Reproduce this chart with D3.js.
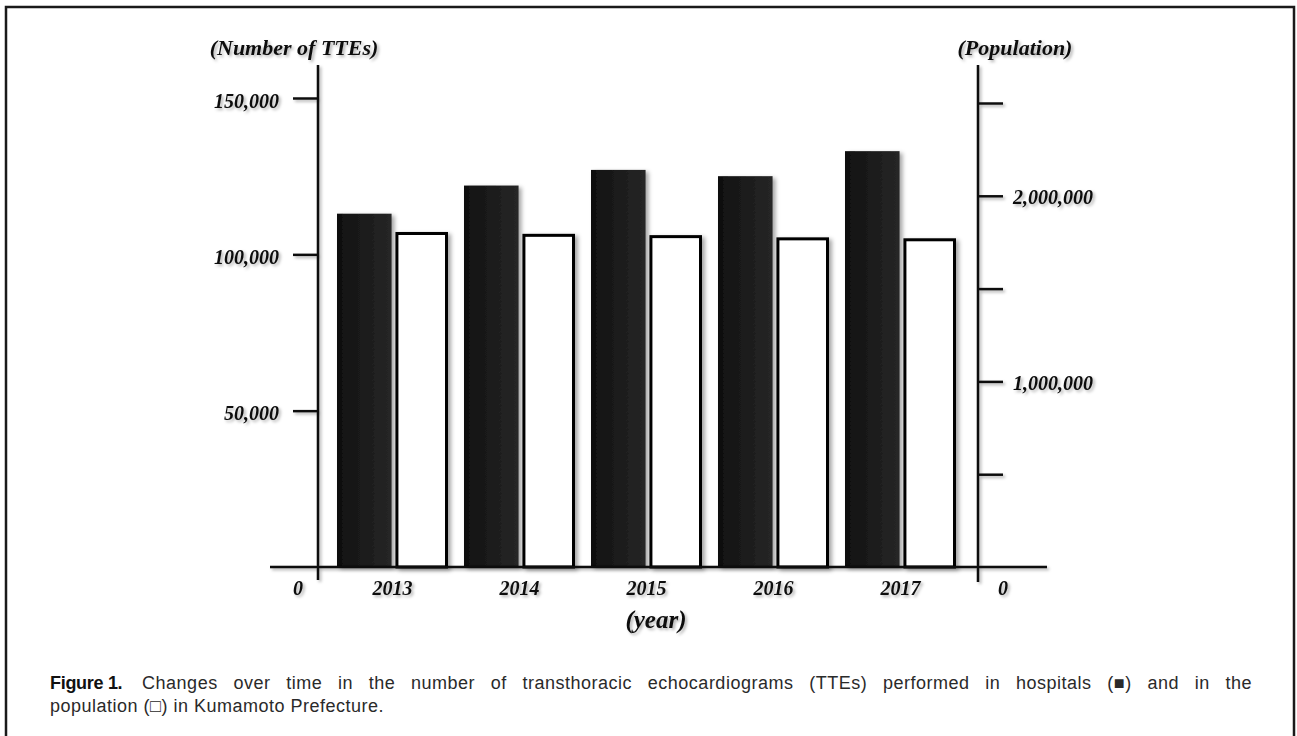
<html>
<head>
    <title>TTEs and population in Kumamoto</title>
    <script src="https://d3js.org/d3.v7.min.js"></script>
    <style>
        body {
            margin: 0;
            background-color: white;
            width: 1297px;
            height: 736px;
            position: relative;
            overflow: hidden;
        }
        svg {
            position: absolute;
            left: 0;
            top: 0;
        }
        .chartText {
            font-family: "Liberation Serif", "Times New Roman", serif;
            font-weight: bold;
            font-style: italic;
            fill: #111;
        }
        .caption {
            position: absolute;
            left: 50px;
            width: 1202px;
            font-family: "Liberation Sans", Arial, sans-serif;
            font-size: 18px;
            line-height: 22px;
            letter-spacing: 0.5px;
            color: #2a2a2a;
            white-space: nowrap;
        }
        #line1 {
            top: 672px;
            text-align: justify;
            text-align-last: justify;
            white-space: normal;
        }
        #line2 {
            top: 695px;
        }
        .figLabel {
            display: inline-block;
            font-family: "Liberation Sans", Arial, sans-serif;
            font-weight: bold;
            font-size: 18px;
            letter-spacing: -0.3px;
            color: #111;
            margin-right: 4px;
        }
        .sym {
            display: inline-block;
        }
    </style>
</head>
<body>
    <svg id="chart" width="1297" height="736"></svg>
    <div class="caption" id="line1"><span class="figLabel">Figure&nbsp;1.</span> Changes over time in the number of transthoracic echocardiograms (TTEs) performed in hospitals <span class="sym">(&#9632;)</span> and in the</div>
    <div class="caption" id="line2">population <span class="sym">(&#9633;)</span> in Kumamoto Prefecture.</div>

    <script>
        // data
        const years = ["2013", "2014", "2015", "2016", "2017"];
        const tteCounts = [113000, 122000, 127000, 125000, 133000];
        const population = [1797000, 1787000, 1780000, 1768000, 1763000];
        const leftTicks = [50000, 100000, 150000];
        const rightTicks = [500000, 1000000, 1500000, 2000000, 2500000];
        const rightLabelled = [1000000, 2000000];

        const svg = d3.select("#chart");

        // filters for the soft shadows
        const defs = svg.append("defs");
        const shadow = defs.append("filter").attr("id", "shadow")
            .attr("x", "-20%").attr("y", "-20%").attr("width", "140%").attr("height", "140%");
        shadow.append("feDropShadow").attr("dx", 2).attr("dy", 2)
            .attr("stdDeviation", 1.5).attr("flood-color", "#000").attr("flood-opacity", 0.3);
        const barShadow = defs.append("filter").attr("id", "barShadow")
            .attr("x", "-20%").attr("y", "-10%").attr("width", "140%").attr("height", "120%");
        barShadow.append("feDropShadow").attr("dx", 3).attr("dy", 2)
            .attr("stdDeviation", 2).attr("flood-color", "#000").attr("flood-opacity", 0.35);
        const grad = defs.append("linearGradient").attr("id", "barGrad")
            .attr("x1", "0%").attr("x2", "100%").attr("y1", "0%").attr("y2", "0%");
        grad.append("stop").attr("offset", "0%").attr("stop-color", "#0f0f0f");
        grad.append("stop").attr("offset", "50%").attr("stop-color", "#1c1c1c");
        grad.append("stop").attr("offset", "100%").attr("stop-color", "#262626");

        // outer frame
        svg.append("path")
            .attr("d", "M6,736 L6,7 L1294,7 L1294,736")
            .attr("fill", "none")
            .attr("stroke", "#1a1a1a")
            .attr("stroke-width", 2.5);

        // scales
        const x0 = d3.scaleBand()
            .domain(years)
            .range([337, 956])
            .paddingInner(0.126)
            .paddingOuter(0);

        const x1 = d3.scaleBand()
            .domain(["tte", "pop"])
            .range([0, x0.bandwidth()])
            .paddingInner(0.1);

        const yL = d3.scaleLinear().domain([0, 150000]).range([567, 98]);
        const yR = d3.scaleLinear().domain([0, 2500000]).range([567, 103]);

        const axisX = 318, rightAxisX = 978;

        const tteData = years.map((y, i) => ({ year: y, v: tteCounts[i] }));
        const popData = years.map((y, i) => ({ year: y, v: population[i] }));

        // bars: TTEs (black)
        svg.append("g").selectAll("rect")
            .data(tteData)
            .enter()
            .append("rect")
            .attr("x", d => x0(d.year) + x1("tte"))
            .attr("y", d => yL(d.v))
            .attr("width", x1.bandwidth() + 2)
            .attr("height", d => yL(0) - yL(d.v))
            .attr("fill", "url(#barGrad)")
            .attr("filter", "url(#barShadow)");

        // bars: population (white, outlined)
        svg.append("g").selectAll("rect")
            .data(popData)
            .enter()
            .append("rect")
            .attr("x", d => x0(d.year) + x1("pop") + 1.5)
            .attr("y", d => yR(d.v))
            .attr("width", x1.bandwidth() - 3)
            .attr("height", d => yR(0) - yR(d.v))
            .attr("fill", "white")
            .attr("stroke", "#000")
            .attr("stroke-width", 3)
            .attr("filter", "url(#barShadow)");

        const g = svg.append("g").attr("filter", "url(#shadow)");

        // baseline and axis lines
        g.append("line")
            .attr("x1", 270).attr("x2", 1047)
            .attr("y1", yL(0)).attr("y2", yL(0))
            .attr("stroke", "#111").attr("stroke-width", 2.5);
        g.append("line")
            .attr("x1", axisX).attr("x2", axisX)
            .attr("y1", 65).attr("y2", 580)
            .attr("stroke", "#111").attr("stroke-width", 2.5);
        g.append("line")
            .attr("x1", rightAxisX).attr("x2", rightAxisX)
            .attr("y1", 65).attr("y2", 582)
            .attr("stroke", "#111").attr("stroke-width", 2.5);

        // left axis
        const leftAxis = g.append("g")
            .attr("transform", "translate(" + axisX + ",0)")
            .call(d3.axisLeft(yL)
                .tickValues(leftTicks)
                .tickSize(25)
                .tickPadding(14)
                .tickFormat(d3.format(",")));
        leftAxis.select(".domain").remove();
        leftAxis.selectAll(".tick line").attr("stroke", "#111").attr("stroke-width", 2.5);
        leftAxis.selectAll(".tick text")
            .attr("class", "chartText")
            .attr("font-size", 20)
            .attr("dy", "0.45em");

        // right axis
        const rightAxis = g.append("g")
            .attr("transform", "translate(" + rightAxisX + ",0)")
            .call(d3.axisRight(yR)
                .tickValues(rightTicks)
                .tickSize(25)
                .tickPadding(10)
                .tickFormat(d => rightLabelled.includes(d) ? d3.format(",")(d) : ""));
        rightAxis.select(".domain").remove();
        rightAxis.selectAll(".tick line").attr("stroke", "#111").attr("stroke-width", 2.5);
        rightAxis.selectAll(".tick text")
            .attr("class", "chartText")
            .attr("font-size", 20)
            .attr("dy", "0.4em");

        // zero labels
        g.append("text").attr("class", "chartText")
            .attr("x", 298).attr("y", yL(0) + 28)
            .attr("text-anchor", "middle").attr("font-size", 20)
            .text("0");
        g.append("text").attr("class", "chartText")
            .attr("x", 1003).attr("y", yR(0) + 28)
            .attr("text-anchor", "middle").attr("font-size", 20)
            .text("0");

        // year labels
        g.selectAll(".yearLabel")
            .data(years)
            .enter()
            .append("text")
            .attr("class", "chartText yearLabel")
            .attr("x", d => x0(d) + x0.bandwidth() / 2)
            .attr("y", yL(0) + 28)
            .attr("text-anchor", "middle")
            .attr("font-size", 20)
            .text(d => d);

        // axis titles
        g.append("text").attr("class", "chartText")
            .attr("x", 294).attr("y", 55)
            .attr("text-anchor", "middle").attr("font-size", 22)
            .text("(Number of TTEs)");
        g.append("text").attr("class", "chartText")
            .attr("x", 1015).attr("y", 55)
            .attr("text-anchor", "middle").attr("font-size", 22)
            .text("(Population)");
        g.append("text").attr("class", "chartText")
            .attr("x", 656).attr("y", 628)
            .attr("text-anchor", "middle").attr("font-size", 25)
            .text("(year)");
    </script>
</body>
</html>
